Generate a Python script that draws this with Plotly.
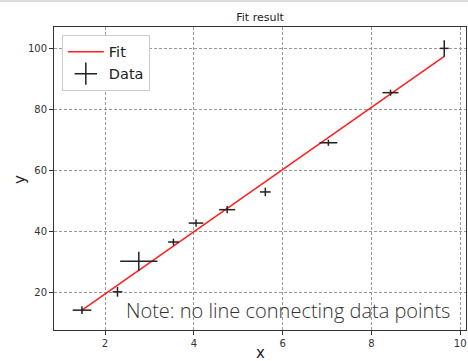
import plotly.graph_objects as go

# Data
x_data = [1.48, 2.28, 2.76, 3.54, 4.05, 4.75, 5.61, 7.03, 8.43, 9.64]
y_data = [14.2, 20.2, 30.2, 36.5, 42.7, 47.1, 52.9, 69.0, 85.4, 99.9]
x_err = [0.21, 0.11, 0.42, 0.12, 0.165, 0.18, 0.12, 0.2, 0.18, 0.1]
y_err = [1.3, 1.6, 3.1, 1.1, 1.2, 1.2, 1.4, 1.0, 1.0, 2.7]

fit_x = [1.48, 9.64]
fit_y = [14.2, 97.3]

x_ticks = [2, 4, 6, 8, 10]
y_ticks = [20, 40, 60, 80, 100]

W, H = 468, 361
L, R, T, B = 54, 2, 27, 31
PW, PH = W - L - R, H - T - B

fig = go.Figure()

fig.add_trace(go.Scatter(
    x=fit_x, y=fit_y, mode="lines", name="Fit",
    line=dict(color="#ff2020", width=1.6),
))

fig.add_trace(go.Scatter(
    x=x_data, y=y_data, mode="markers", name="Data", showlegend=False,
    marker=dict(size=1, color="rgba(0,0,0,0)"),
    error_x=dict(type="data", array=x_err, visible=True, color="#222", thickness=1.5, width=0),
    error_y=dict(type="data", array=y_err, visible=True, color="#222", thickness=1.5, width=0),
))

# legend-only entry for the error-bar cross
fig.add_trace(go.Scatter(
    x=[None], y=[None], mode="markers", name="Data",
    marker=dict(symbol="cross-thin", size=16, line=dict(color="#222", width=1.5)),
))

tick_font = dict(family="DejaVu Sans", size=10, color="#333")

axis_common = dict(
    showline=True, linecolor="#333", linewidth=1, mirror=True,
    showgrid=True, gridcolor="#999", gridwidth=0.8, griddash="3px,2px",
    ticks="outside", ticklen=4, tickcolor="#333",
    tickfont=tick_font, zeroline=False, automargin=False,
)

fig.update_xaxes(range=[0.85, 10.13], tickvals=x_ticks,
                 ticklabeloverflow="allow", **axis_common)
fig.update_yaxes(range=[7.7, 106.9], tickvals=y_ticks, **axis_common)

# axis titles
fig.add_annotation(text="x", xref="paper", yref="paper",
                   x=0.5, y=(H - B - 342) / PH, xanchor="center", yanchor="top",
                   showarrow=False, font=dict(family="DejaVu Sans", size=15, color="#222"))
fig.add_annotation(text="y", xref="paper", yref="paper", textangle=-90,
                   x=(20 - L) / PW, y=(H - B - 180) / PH, xanchor="center", yanchor="middle",
                   showarrow=False, font=dict(family="DejaVu Sans", size=15, color="#222"))

fig.add_annotation(
    text="Note: no line connecting data points",
    xref="paper", yref="paper", x=0.170, y=0.063,
    xanchor="left", yanchor="middle", showarrow=False,
    font=dict(family="Open Sans", size=20, color="#333", weight=300),
)

fig.add_shape(type="line", xref="paper", yref="paper",
              x0=-L / PW, x1=(W - L) / PW,
              y0=(H - B - 1) / PH, y1=(H - B - 1) / PH,
              line=dict(color="#ddd", width=2))

fig.update_layout(
    width=W, height=H,
    margin=dict(l=L, r=R, t=T, b=B, autoexpand=False),
    paper_bgcolor="white", plot_bgcolor="white",
    title=dict(text="Fit result", x=0.5, xref="paper", xanchor="center",
               y=(H - 17) / H, yanchor="middle",
               font=dict(family="DejaVu Sans", size=11, color="#222")),
    legend=dict(x=0.019, y=0.974, xanchor="left", yanchor="top",
                bgcolor="white", bordercolor="#ccc", borderwidth=1,
                font=dict(family="DejaVu Sans", size=14.5, color="#222"),
                tracegroupgap=0, itemwidth=36),
    showlegend=True,
)

fig.write_html("out.html", config={"displayModeBar": False},
               post_script="document.body.style.margin='0';document.body.style.overflow='hidden';")
